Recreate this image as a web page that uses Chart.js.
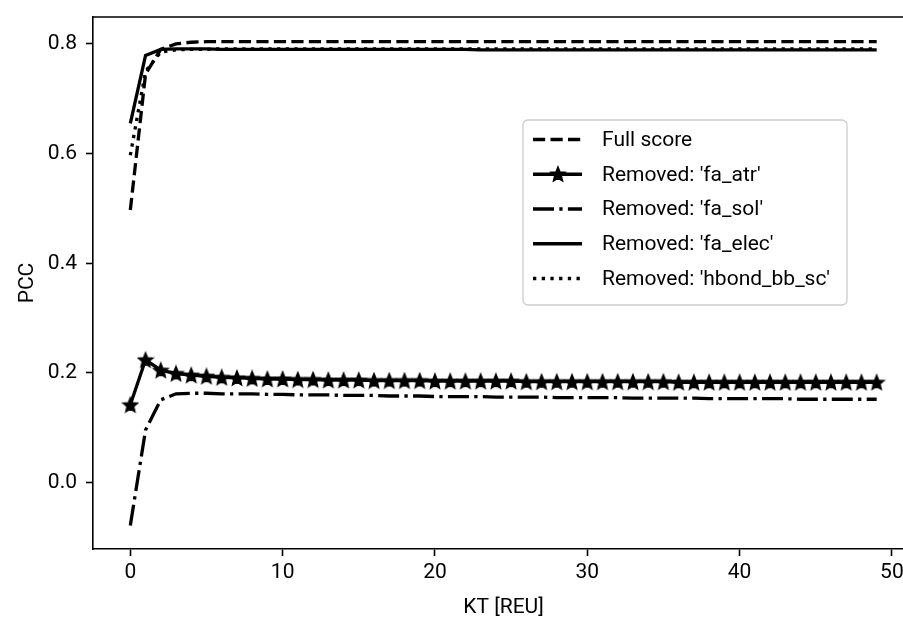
<!DOCTYPE html>
<html>
<head>
<meta charset="utf-8">
<script src="https://cdn.jsdelivr.net/npm/chart.js@4.4.0/dist/chart.umd.min.js"></script>
<style>
html, body { margin: 0; padding: 0; background: #fff; overflow: hidden; width: 903px; height: 624px; }
canvas { display: block; }
</style>
</head>
<body>
<canvas id="chart" width="930" height="624" style="width:930px;height:624px"></canvas>
<script>
// KT values (x axis)
const kt = [0, 1, 2, 3, 4, 5, 6, 7, 8, 9, 10, 11, 12, 13, 14, 15, 16, 17, 18, 19,
    20, 21, 22, 23, 24, 25, 26, 27, 28, 29, 30, 31, 32, 33, 34, 35, 36, 37, 38, 39,
    40, 41, 42, 43, 44, 45, 46, 47, 48, 49];

const fullScore = [0.497, 0.745, 0.790, 0.800, 0.803, 0.804, 0.804, 0.804, 0.804, 0.804,
    0.804, 0.804, 0.804, 0.804, 0.804, 0.804, 0.804, 0.804, 0.804, 0.804,
    0.804, 0.804, 0.804, 0.804, 0.804, 0.804, 0.804, 0.804, 0.804, 0.804,
    0.804, 0.804, 0.804, 0.804, 0.804, 0.804, 0.804, 0.804, 0.804, 0.804,
    0.804, 0.804, 0.804, 0.804, 0.804, 0.804, 0.804, 0.804, 0.804, 0.804];

const faAtr = [0.142, 0.224, 0.205, 0.199, 0.196, 0.194, 0.192, 0.191, 0.190, 0.189,
    0.189, 0.188, 0.188, 0.187, 0.187, 0.187, 0.186, 0.186, 0.186, 0.186,
    0.185, 0.185, 0.185, 0.185, 0.185, 0.185, 0.184, 0.184, 0.184, 0.184,
    0.184, 0.184, 0.184, 0.184, 0.184, 0.184, 0.183, 0.183, 0.183, 0.183,
    0.183, 0.183, 0.183, 0.183, 0.183, 0.183, 0.183, 0.183, 0.183, 0.183];

const faSol = [-0.078, 0.096, 0.151, 0.162, 0.163, 0.163, 0.162, 0.162, 0.162, 0.161,
    0.161, 0.160, 0.160, 0.160, 0.159, 0.159, 0.159, 0.158, 0.158, 0.158,
    0.157, 0.157, 0.157, 0.157, 0.156, 0.156, 0.156, 0.156, 0.155, 0.155,
    0.155, 0.155, 0.155, 0.154, 0.154, 0.154, 0.154, 0.154, 0.153, 0.153,
    0.153, 0.153, 0.153, 0.153, 0.152, 0.152, 0.152, 0.152, 0.152, 0.152];

const faElec = [0.655, 0.779, 0.790, 0.791, 0.791, 0.791, 0.790, 0.790, 0.790, 0.790,
    0.790, 0.790, 0.790, 0.790, 0.790, 0.790, 0.790, 0.790, 0.790, 0.790,
    0.790, 0.790, 0.790, 0.789, 0.789, 0.789, 0.789, 0.789, 0.789, 0.789,
    0.789, 0.789, 0.789, 0.789, 0.789, 0.789, 0.789, 0.789, 0.789, 0.789,
    0.789, 0.789, 0.789, 0.789, 0.789, 0.789, 0.789, 0.789, 0.789, 0.789];

const hbondBbSc = [0.597, 0.750, 0.785, 0.789, 0.790, 0.790, 0.791, 0.791, 0.791, 0.791,
    0.791, 0.791, 0.791, 0.791, 0.791, 0.791, 0.791, 0.791, 0.791, 0.791,
    0.791, 0.791, 0.791, 0.791, 0.791, 0.791, 0.791, 0.791, 0.791, 0.791,
    0.791, 0.791, 0.791, 0.791, 0.791, 0.791, 0.791, 0.791, 0.791, 0.791,
    0.791, 0.791, 0.791, 0.791, 0.791, 0.791, 0.791, 0.791, 0.791, 0.791];

const seriesNames = ['Full score', "Removed: 'fa_atr'", "Removed: 'fa_sol'",
    "Removed: 'fa_elec'", "Removed: 'hbond_bb_sc'"];

const xTicks = [0, 10, 20, 30, 40, 50];
const yTicks = [0.0, 0.2, 0.4, 0.6, 0.8];

const FONT = 'Roboto';
const LW = 3.3;

// filled five point star used as marker
function makeStar(size) {
    const c = document.createElement('canvas');
    c.width = size;
    c.height = size;
    const g = c.getContext('2d');
    const cx = size / 2, cy = size / 2 + 0.7, outer = size / 2 - 1.5, inner = outer * 0.45;
    g.beginPath();
    for (let i = 0; i < 10; i++) {
        const r = i % 2 === 0 ? outer : inner;
        const a = -Math.PI / 2 + i * Math.PI / 5;
        const px = cx + r * Math.cos(a);
        const py = cy + r * Math.sin(a);
        if (i === 0) g.moveTo(px, py); else g.lineTo(px, py);
    }
    g.closePath();
    g.fillStyle = '#000';
    g.fill();
    g.strokeStyle = '#000';
    g.lineWidth = 1.6;
    g.lineJoin = 'miter';
    g.stroke();
    return c;
}
const star = makeStar(18);

function toPoints(values) {
    return kt.map((x, i) => ({ x: x, y: values[i] }));
}

const styles = [
    { dash: [12.2, 5.3], star: false },
    { dash: [], star: true },
    { dash: [21, 5.3, 3.3, 5.3], star: false },
    { dash: [], star: false },
    { dash: [3.3, 5.4], star: false }
];
const seriesValues = [fullScore, faAtr, faSol, faElec, hbondBbSc];

const datasets = seriesValues.map((vals, i) => ({
    label: seriesNames[i],
    data: toPoints(vals),
    borderColor: '#000',
    backgroundColor: '#000',
    borderWidth: LW,
    borderDash: styles[i].dash,
    borderCapStyle: 'butt',
    tension: 0,
    pointStyle: styles[i].star ? star : 'circle',
    pointRadius: styles[i].star ? 9 : 0,
    pointHoverRadius: styles[i].star ? 9 : 0
}));

// top spine and matplotlib-like legend
const frameAndLegend = {
    id: 'frameAndLegend',
    afterDraw(chart) {
        const ctx = chart.ctx;
        const area = chart.chartArea;
        ctx.save();
        ctx.strokeStyle = '#000';
        ctx.lineWidth = 1.6;
        ctx.setLineDash([]);
        ctx.beginPath();
        ctx.moveTo(area.left - 0.8, area.top);
        ctx.lineTo(area.right + 0.8, area.top);
        ctx.lineTo(area.right + 0.8, area.bottom);
        ctx.stroke();

        // legend box
        const bx = 523, by = 120, bw = 324, bh = 185;
        ctx.beginPath();
        ctx.roundRect(bx, by, bw, bh, 5);
        ctx.fillStyle = 'rgba(255,255,255,0.8)';
        ctx.fill();
        ctx.strokeStyle = '#cccccc';
        ctx.lineWidth = 1.3;
        ctx.stroke();

        ctx.font = '21px ' + FONT;
        ctx.textBaseline = 'middle';
        ctx.textAlign = 'left';
        seriesNames.forEach((name, i) => {
            const y = 139.5 + i * 34.75;
            ctx.strokeStyle = '#000';
            ctx.lineWidth = LW;
            ctx.lineCap = 'butt';
            ctx.setLineDash(styles[i].dash);
            ctx.beginPath();
            ctx.moveTo(533, y);
            ctx.lineTo(582, y);
            ctx.stroke();
            if (styles[i].star) {
                ctx.drawImage(star, Math.round(557.5 - 9), Math.round(y - 9));
            }
            ctx.fillStyle = '#000';
            ctx.fillText(name, 602, y + 1);
        });
        ctx.restore();
    }
};

new Chart(document.getElementById('chart'), {
    type: 'line',
    data: { datasets: datasets },
    options: {
        responsive: false,
        animation: false,
        layout: { padding: { top: 17, right: 16, left: 0, bottom: 0 } },
        plugins: {
            legend: { display: false },
            tooltip: { enabled: false }
        },
        scales: {
            x: {
                type: 'linear',
                min: -2.45,
                max: 51.45,
                afterFit: scale => {
                    scale.height = 75;
                    scale.paddingLeft = 0;
                    scale.paddingRight = 0;
                },
                afterBuildTicks: scale => { scale.ticks = xTicks.map(v => ({ value: v })); },
                border: { display: true, color: '#000', width: 1.6 },
                grid: {
                    display: true, drawOnChartArea: false, drawTicks: true,
                    tickLength: 7, tickWidth: 1.6, tickColor: '#000'
                },
                ticks: {
                    color: '#000', padding: 4, maxRotation: 0,
                    font: { family: FONT, size: 21 },
                    callback: v => String(v)
                },
                title: {
                    display: true, text: 'KT [REU]', color: '#000',
                    font: { family: FONT, size: 21 },
                    padding: { top: 4, bottom: 4 }
                }
            },
            y: {
                type: 'linear',
                min: -0.121,
                max: 0.849,
                afterFit: scale => {
                    scale.width = 93;
                    scale.paddingTop = 0;
                    scale.paddingBottom = 0;
                },
                afterBuildTicks: scale => { scale.ticks = yTicks.map(v => ({ value: v })); },
                border: { display: true, color: '#000', width: 1.6 },
                grid: {
                    display: true, drawOnChartArea: false, drawTicks: true,
                    tickLength: 7, tickWidth: 1.6, tickColor: '#000'
                },
                ticks: {
                    color: '#000', padding: 9,
                    font: { family: FONT, size: 21 },
                    callback: v => v.toFixed(1)
                },
                title: {
                    display: true, text: 'PCC', color: '#000',
                    font: { family: FONT, size: 21 },
                    padding: { top: 15, bottom: 0 }
                }
            }
        }
    },
    plugins: [frameAndLegend]
});
</script>
</body>
</html>
